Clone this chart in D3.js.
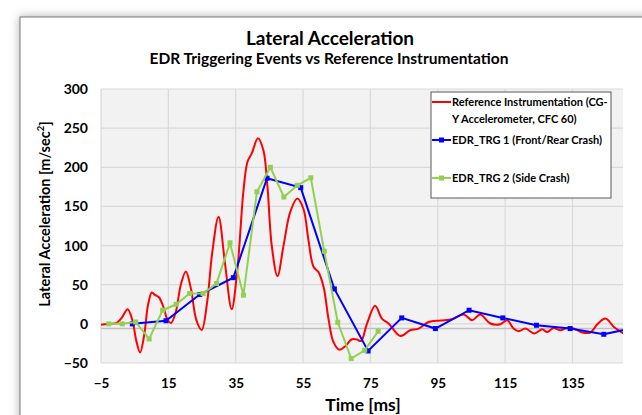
<!DOCTYPE html>
<html><head><meta charset="utf-8">
<script src="https://cdn.jsdelivr.net/npm/d3@7"></script>
<style>html,body{margin:0;padding:0;background:#fff;overflow:hidden}svg{display:block}</style>
</head><body>
<script>
// ---- data ----
const refTime = [-5,-2,-0.5,1.2,2.9,4.3,5.5,6.6,7.8,9,10.1,11,12.2,13.5,14.8,15.8,17.2,18.7,20.2,21.7,23.3,24.9,26.5,28,29.9,31.8,33.8,35.5,37.3,38.5,39.8,41.6,43.2,44.4,45.7,47.4,49.2,51.2,53.3,55.1,56.6,58.1,59.6,61.1,62.6,64,65.8,67.5,69.5,71,72.2,74,76.4,78.4,80.4,83.9,86.8,89.3,92.3,95.8,99.2,102.7,105.2,107.6,110.6,113.6,115.6,117.5,119,121,123.7,126,127.5,129.4,131.4,133.4,135.4,137.9,140.3,142.5,144.8,147.3,150.2];
const refValue = [-1,0,1,8,18.7,5,-22,-36.7,-15,25,40,37,34,22,5,1.2,15,50,67,45,5,-8,27,90,136.7,78,18.7,70,170,207,218,237,222,177,100,61,100,143,160,147,107,73,66,47,5,-23,-33,-28.6,-19.7,-20,-21.9,0.4,23,6.8,0.4,-15.5,-8.2,-6,2.4,4.2,5.9,11.9,4.6,11.9,0.4,-0.5,4.6,-6,-9.5,-6,-12.4,-6.9,-10.4,-5.2,-8.2,-5.2,-6,-11,-11,0,6.8,-3.9,-12.4];

const trg1Time = [4.3,14.3,24.3,34.3,44.3,54.3,64.3,74.3,84.3,94.3,104.3,114.3,124.3,134.3,144.3,154.3];
const trg1Value = [0,4,37.5,59,186,174,44.6,-34.6,7.6,-6,17.4,7.6,-1.8,-6,-13.3,-4];

const trg2Time = [-2.7,1.3,5.3,9.3,13.3,17.3,21.3,25.3,29.3,33.3,37.3,41.3,45.3,49.3,53.3,57.3,61.3,65.3,69.3,73.3,77.3];
const trg2Value = [0,0,2.4,-19.3,17.4,25,38.7,38.7,51.5,103.5,36.6,168.7,200,162,177,186.6,92.8,2,-44.4,-33.8,-9.5];

const xTicks = [-5,15,35,55,75,95,115,135];
const yTicks = [-50,0,50,100,150,200,250,300];

const seriesNames = ["Reference Instrumentation (CG-|Y Accelerometer, CFC 60)","EDR_TRG 1 (Front/Rear Crash)","EDR_TRG 2 (Side Crash)"];
const seriesColors = ["#ff0000","#0000ff","#92d050"];

// ---- layout ----
const W = 642, H = 415;
const L = 101, R = 623, T = 89, B = 363;
const FONT = "Lato, 'Open Sans', sans-serif";

const svg = d3.select("body").append("svg").attr("width", W).attr("height", H);
const defs = svg.append("defs");
const f = defs.append("filter").attr("id","sh").attr("x","-10%").attr("y","-10%").attr("width","130%").attr("height","130%");
f.append("feDropShadow").attr("dx",0).attr("dy",0).attr("stdDeviation",5).attr("flood-color","#777").attr("flood-opacity",0.6);
defs.append("clipPath").attr("id","clip").append("rect").attr("x",L).attr("y",T-2).attr("width",R-L).attr("height",B-T+4);

svg.append("rect").attr("x",20).attr("y",17).attr("width",660).attr("height",440)
  .attr("fill","#fff").attr("stroke","#7a7a7a").attr("stroke-width",1).attr("filter","url(#sh)");

const x = d3.scaleLinear().domain([-5,150]).range([L,R]);
const y = d3.scaleLinear().domain([-50,300]).range([B,T]);

// plot background
svg.append("rect").attr("x",L).attr("y",T).attr("width",R-L).attr("height",B-T).attr("fill","#f2f2f2");

// gridlines
const grid = svg.append("g");
grid.selectAll(".hg").data(yTicks).join("line")
  .attr("x1",L).attr("x2",R).attr("y1",d=>y(d)).attr("y2",d=>y(d))
  .attr("stroke","#d9d9d9").attr("stroke-width",1.2);
grid.selectAll(".vg").data(xTicks).join("line")
  .attr("x1",d=>x(d)).attr("x2",d=>x(d)).attr("y1",T).attr("y2",B)
  .attr("stroke","#d9d9d9").attr("stroke-width",1.2);
// axis baseline
svg.append("line").attr("x1",L).attr("x2",R).attr("y1",y(-6)).attr("y2",y(-6))
  .attr("stroke","#bfbfbf").attr("stroke-width",1.5);

// axes labels via d3 axes
const yAxis = d3.axisLeft(y).tickValues(yTicks).tickSize(0).tickPadding(13);
const gy = svg.append("g").attr("transform",`translate(${L},0)`).call(yAxis);
gy.select(".domain").remove();
gy.selectAll("text").attr("font-family",FONT).attr("font-weight","bold").attr("font-size",14).attr("fill","#000");

const xAxis = d3.axisBottom(x).tickValues(xTicks).tickSize(0).tickPadding(15);
const gx = svg.append("g").attr("transform",`translate(0,${B})`).call(xAxis);
gx.select(".domain").remove();
gx.selectAll("text").attr("font-family",FONT).attr("font-weight","bold").attr("font-size",13.5).attr("fill","#000");

// series
const plot = svg.append("g").attr("clip-path","url(#clip)");
const refData = refTime.map((t,i)=>[t,refValue[i]]);
const t1 = trg1Time.map((t,i)=>[t,trg1Value[i]]);
const t2 = trg2Time.map((t,i)=>[t,trg2Value[i]]);

plot.append("path").datum(refData)
  .attr("d", d3.line().x(d=>x(d[0])).y(d=>y(d[1])).curve(d3.curveCatmullRom.alpha(0.5)))
  .attr("fill","none").attr("stroke",seriesColors[0]).attr("stroke-width",2);

function drawMarked(data,color){
  plot.append("path").datum(data)
    .attr("d", d3.line().x(d=>x(d[0])).y(d=>y(d[1])))
    .attr("fill","none").attr("stroke",color).attr("stroke-width",2);
  plot.selectAll(null).data(data).join("rect")
    .attr("x",d=>x(d[0])-2.5).attr("y",d=>y(d[1])-2.5).attr("width",5).attr("height",5).attr("fill",color);
}
drawMarked(t1, seriesColors[1]);
drawMarked(t2, seriesColors[2]);

// titles
svg.append("text").attr("x",330).attr("y",45).attr("text-anchor","middle")
  .attr("font-family",FONT).attr("font-weight","bold").attr("font-size",19).attr("fill","#000")
  .text("Lateral Acceleration");
svg.append("text").attr("x",329).attr("y",64).attr("text-anchor","middle")
  .attr("font-family",FONT).attr("font-weight","bold").attr("font-size",15.5).attr("fill","#000")
  .text("EDR Triggering Events vs Reference Instrumentation");

// axis titles
const yt = svg.append("text").attr("transform","translate(50,214) rotate(-90)").attr("text-anchor","middle")
  .attr("font-family",FONT).attr("font-weight","bold").attr("font-size",14.5).attr("fill","#000");
yt.append("tspan").text("Lateral Acceleration [m/sec");
yt.append("tspan").attr("font-size",9.5).attr("dy",-6).text("2");
yt.append("tspan").attr("dy",6).text("]");

svg.append("text").attr("x",363).attr("y",411).attr("text-anchor","middle")
  .attr("font-family",FONT).attr("font-weight","bold").attr("font-size",17.5).attr("fill","#000")
  .text("Time [ms]");

// legend
const lg = svg.append("g");
lg.append("rect").attr("x",431).attr("y",92).attr("width",180).attr("height",106)
  .attr("fill","#fff").attr("stroke","#595959").attr("stroke-width",1);
const legY = [102,140,178];
seriesNames.forEach((name,i)=>{
  lg.append("line").attr("x1",432).attr("x2",451).attr("y1",legY[i]).attr("y2",legY[i])
    .attr("stroke",seriesColors[i]).attr("stroke-width",2);
  if(i>0) lg.append("rect").attr("x",439).attr("y",legY[i]-2.5).attr("width",5).attr("height",5).attr("fill",seriesColors[i]);
  const lines = name.split("|");
  lines.forEach((ln,j)=>{
    lg.append("text").attr("x",452).attr("y",legY[i]+4+j*17)
      .attr("font-family",FONT).attr("font-weight","bold").attr("font-size",11).attr("fill","#000").text(ln);
  });
});
</script>
</body></html>
